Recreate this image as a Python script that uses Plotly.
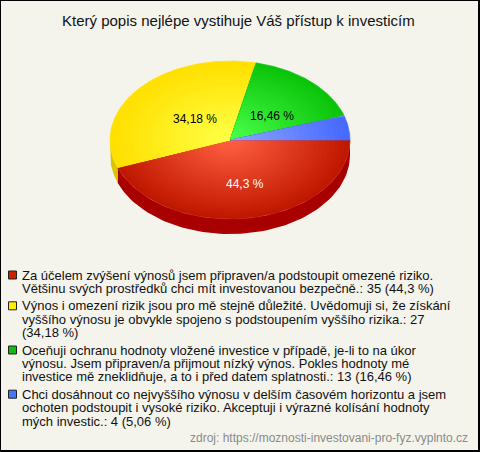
import numpy as np
import plotly.graph_objects as go

# ---- data ----
title_text = "Který popis nejlépe vystihuje Váš přístup k investicím"
categories = [
    "Za účelem zvýšení výnosů jsem připraven/a podstoupit omezené riziko. Většinu svých prostředků chci mít investovanou bezpečně.",
    "Výnos i omezení rizik jsou pro mě stejně důležité. Uvědomuji si, že získání vyššího výnosu je obvykle spojeno s podstoupením vyššího rizika.",
    "Oceňuji ochranu hodnoty vložené investice v případě, je-li to na úkor výnosu. Jsem připraven/a přijmout nízký výnos. Pokles hodnoty mé investice mě zneklidňuje, a to i před datem splatnosti.",
    "Chci dosáhnout co nejvyššího výnosu v delším časovém horizontu a jsem ochoten podstoupit i vysoké riziko. Akceptuji i výrazné kolísání hodnoty mých investic.",
]
counts = [35, 27, 13, 4]
pct_labels = ["44,3 %", "34,18 %", "16,46 %", "5,06 %"]
legend_lines = [
    ["Za účelem zvýšení výnosů jsem připraven/a podstoupit omezené riziko.",
     "Většinu svých prostředků chci mít investovanou bezpečně.: 35 (44,3 %)"],
    ["Výnos i omezení rizik jsou pro mě stejně důležité. Uvědomuji si, že získání",
     "vyššího výnosu je obvykle spojeno s podstoupením vyššího rizika.: 27",
     "(34,18 %)"],
    ["Oceňuji ochranu hodnoty vložené investice v případě, je-li to na úkor",
     "výnosu. Jsem připraven/a přijmout nízký výnos. Pokles hodnoty mé",
     "investice mě zneklidňuje, a to i před datem splatnosti.: 13 (16,46 %)"],
    ["Chci dosáhnout co nejvyššího výnosu v delším časovém horizontu a jsem",
     "ochoten podstoupit i vysoké riziko. Akceptuji i výrazné kolísání hodnoty",
     "mých investic.: 4 (5,06 %)"],
]
source_text = "zdroj: https://moznosti-investovani-pro-fyz.vyplnto.cz"

# ---- style ----
W, H = 480, 452
BG = "#f4f4ec"
FONT = "Liberation Sans, Arial, sans-serif"
center_cols = [(255, 95, 65), (255, 255, 70), (75, 255, 75), (140, 165, 255)]
edge_cols = [(192, 24, 0), (255, 224, 0), (10, 196, 10), (70, 105, 255)]
side_cols = ["#a80000", "#d9c400", "#0a9a0a", "#3050d0"]
swatch_cols = ["#cc2200", "#ffee00", "#11bb11", "#4477ff"]
label_cols = ["white", "black", "black", "black"]
label_dx = [4, 10, 2, 0]

cx, cy, rx, ry, depth = 230, 140, 120, 79, 15

fig = go.Figure()

total = sum(counts)
fr = np.array(counts) / total
ends = np.cumsum(fr) * 2 * np.pi
starts = ends - fr * 2 * np.pi


def rgb(c):
    return "rgb(%d,%d,%d)" % tuple(int(round(v)) for v in c)


# side walls (front half: angles 0..pi)
for i in range(len(counts)):
    a, b = max(starts[i], 0), min(ends[i], np.pi)
    if b <= a:
        continue
    t = np.linspace(a, b, 80)
    xt = cx + rx * np.cos(t)
    yt = cy + ry * np.sin(t)
    xs = np.concatenate([xt, xt[::-1]])
    ys = np.concatenate([yt, yt[::-1] + depth])
    fig.add_trace(go.Scatter(x=xs, y=ys, fill="toself", mode="lines",
                             line=dict(width=0, color=side_cols[i]),
                             fillcolor=side_cols[i], hoverinfo="skip",
                             showlegend=False))

# top faces with radial gradient (rings)
N = 24
for i in range(len(counts)):
    t = np.linspace(starts[i], ends[i], 120)
    for k in range(N):
        r = 1 - k / N
        f = k / (N - 1)
        c = [edge_cols[i][j] + (center_cols[i][j] - edge_cols[i][j]) * f for j in range(3)]
        xs = np.concatenate([[cx], cx + r * rx * np.cos(t), [cx]])
        ys = np.concatenate([[cy], cy + r * ry * np.sin(t), [cy]])
        fig.add_trace(go.Scatter(x=xs, y=ys, fill="toself", mode="lines",
                                 line=dict(width=0.6 if k == 0 else 0, color=rgb(c)),
                                 fillcolor=rgb(c), hoverinfo="skip",
                                 showlegend=False))

annotations = []
# percentage labels
for i in range(len(counts)):
    if fr[i] < 0.1:
        continue
    m = (starts[i] + ends[i]) / 2
    annotations.append(dict(x=cx + 0.5 * rx * np.cos(m) + label_dx[i],
                            y=cy + 0.5 * ry * np.sin(m) + 5,
                            text=pct_labels[i], showarrow=False,
                            font=dict(family=FONT, size=12, color=label_cols[i]),
                            xanchor="center", yanchor="middle"))

# title
annotations.append(dict(x=238, y=20, text=title_text, showarrow=False,
                        font=dict(family=FONT, size=15, color="#111"),
                        xanchor="center", yanchor="middle"))

# legend
y = 275
sw_x, sw_y = [], []
for i, lines in enumerate(legend_lines):
    sw_x.append(12.5)
    sw_y.append(y)
    for ln in lines:
        annotations.append(dict(x=20, y=y, text=ln, showarrow=False,
                                font=dict(family=FONT, size=13, color="#111"),
                                xanchor="left", yanchor="middle"))
        y += 13.4
    y += 4
fig.add_trace(go.Scatter(x=sw_x, y=sw_y, mode="markers",
                         marker=dict(symbol="square", size=8, color=swatch_cols,
                                     line=dict(width=1, color="#222")),
                         hoverinfo="skip", showlegend=False))

# source
annotations.append(dict(x=470, y=438, text=source_text, showarrow=False,
                        font=dict(family=FONT, size=12, color="#8a8a8a"),
                        xanchor="right", yanchor="middle"))

fig.update_layout(
    width=W, height=H,
    margin=dict(l=0, r=0, t=0, b=0),
    paper_bgcolor="black", plot_bgcolor="black",
    xaxis=dict(range=[0, W], visible=False, fixedrange=True),
    yaxis=dict(range=[H, 0], visible=False, fixedrange=True),
    annotations=annotations,
    shapes=[dict(type="rect", xref="x", yref="y", x0=1, y0=1, x1=478, y1=450,
                 fillcolor=BG, line=dict(width=0), layer="below")],
    showlegend=False,
)

fig.write_html("out.html", config={"displayModeBar": False},
               post_script="document.body.style.margin='0';document.body.style.overflow='hidden';")
